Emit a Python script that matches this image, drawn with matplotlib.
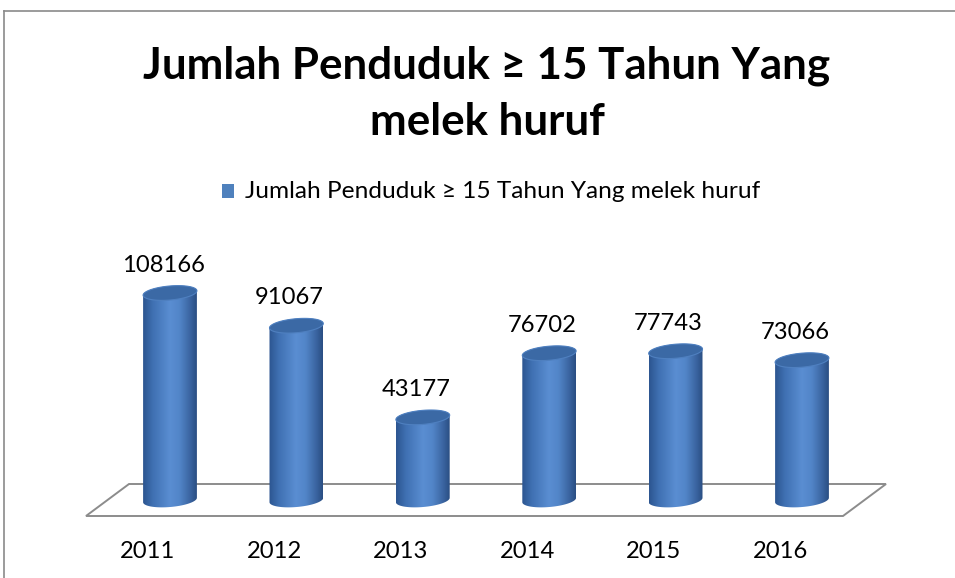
import numpy as np
import matplotlib
matplotlib.use("Agg")
import matplotlib.pyplot as plt
from matplotlib.colors import LinearSegmentedColormap
from matplotlib.patches import Polygon, Rectangle
from matplotlib.lines import Line2D

# ---- data ----
years = ["2011", "2012", "2013", "2014", "2015", "2016"]
values = [108166, 91067, 43177, 76702, 77743, 73066]
title_lines = ["Jumlah Penduduk \u2265 15 Tahun Yang", "melek huruf"]
series_name = "Jumlah Penduduk \u2265 15 Tahun Yang melek huruf"

FONT = ["Lato", "DejaVu Sans"]
W, H, DPI = 955, 578, 100

fig = plt.figure(figsize=(W / DPI, H / DPI), dpi=DPI, facecolor="white")
ax = fig.add_axes([0, 0, 1, 1])
ax.set_axis_off()

# scale: first category centre, category spacing, baseline and value scale (pixels)
X0, DX = 170.0, 126.4
Y0, PXV = 500.0, 207.0 / 108166.0


def set_limits():
    ax.set_xlim(-X0 / DX, (W - X0) / DX)
    ax.set_ylim(-(H - Y0) / PXV, Y0 / PXV)


def px_to_data(px, py):
    return (px - X0) / DX, (Y0 - py) / PXV


set_limits()

# ---- floor of the 3-D plot area ----
floor_px = [(129, 484), (886, 484), (843, 516), (86, 516)]
floor = Polygon([px_to_data(*p) for p in floor_px], closed=True,
                facecolor="none", edgecolor="#8c8c8c", lw=1.4, zorder=1)
ax.add_patch(floor)

# ---- cylinders ----
cyl_cmap = LinearSegmentedColormap.from_list(
    "cyl",
    [(0.0, "#2c5590"), (0.18, "#3f70b2"), (0.5, "#5a8ed2"),
     (0.68, "#5285c8"), (0.88, "#3a64a0"), (1.0, "#2a4e82")])
grad = np.linspace(0, 1, 256).reshape(1, -1)

A, B, TILT = 27.0, 7.0, np.deg2rad(5)


def ellipse_pts(cx, cy, t):
    ex = A * np.cos(t) * np.cos(TILT) - B * np.sin(t) * np.sin(TILT)
    ey = A * np.cos(t) * np.sin(TILT) + B * np.sin(t) * np.cos(TILT)
    return np.column_stack([cx + ex / DX, cy + ey / PXV])


for i, v in enumerate(values):
    lower = ellipse_pts(i, 0, np.linspace(np.pi, 2 * np.pi, 60))
    upper = ellipse_pts(i, v, np.linspace(0, np.pi, 60))
    body = Polygon(np.vstack([lower, upper]), closed=True,
                   facecolor="none", edgecolor="none", zorder=2)
    ax.add_patch(body)
    im = ax.imshow(grad, cmap=cyl_cmap, aspect="auto", interpolation="bicubic",
                   extent=[i - A / DX, i + A / DX, -3 * B / PXV, v + 3 * B / PXV],
                   zorder=2)
    im.set_clip_path(body)
    top = Polygon(ellipse_pts(i, v, np.linspace(0, 2 * np.pi, 120)), closed=True,
                  facecolor="#3b69a5", edgecolor="#4f80c0", lw=0.8, zorder=3)
    ax.add_patch(top)

set_limits()


def fit(text_obj, target_px):
    fig.canvas.draw()
    w = text_obj.get_window_extent().width
    text_obj.set_fontsize(text_obj.get_fontsize() * target_px / w)


# ---- value labels and category labels ----
probe = fig.text(0, 0, "108166", family=FONT, fontsize=16)
fit(probe, 83)
num_size = probe.get_fontsize()
probe.remove()

for i, (y, v) in enumerate(zip(years, values)):
    ax.annotate(f"{v}", (i, v), xytext=(-7, 21 + B), textcoords="offset pixels",
                ha="center", va="center", family=FONT, fontsize=num_size,
                color="black", zorder=5)
    ax.annotate(y, (i, 0), xytext=(-22, -51), textcoords="offset pixels",
                ha="center", va="center", family=FONT, fontsize=num_size,
                color="black", zorder=5)

# ---- title ----
t1 = fig.text(486.5 / W, 1 - 78 / H, title_lines[0], ha="center", va="baseline",
              family=FONT, fontweight="bold", fontsize=30)
fit(t1, 687)
fig.text(487 / W, 1 - 135 / H, title_lines[1], ha="center", va="baseline",
         family=FONT, fontweight="bold", fontsize=t1.get_fontsize())

# ---- legend ----
fig.add_artist(Rectangle((222 / W, 1 - 198 / H), 12 / W, 14 / H,
                         transform=fig.transFigure, facecolor="#4f81bd",
                         edgecolor="none"))
lg = fig.text(245 / W, 1 - 192 / H, series_name, ha="left", va="center",
              family=FONT, fontsize=16)
fit(lg, 515)

# ---- chart border (left and top edges) ----
fig.add_artist(Line2D([4 / W, 4 / W], [0, 1 - 11 / H], transform=fig.transFigure,
                      color="#8a8a8a", lw=1.2))
fig.add_artist(Line2D([4 / W, 1], [1 - 11 / H, 1 - 11 / H], transform=fig.transFigure,
                      color="#8a8a8a", lw=1.2))

fig.savefig("out.png", dpi=DPI, facecolor="white")
